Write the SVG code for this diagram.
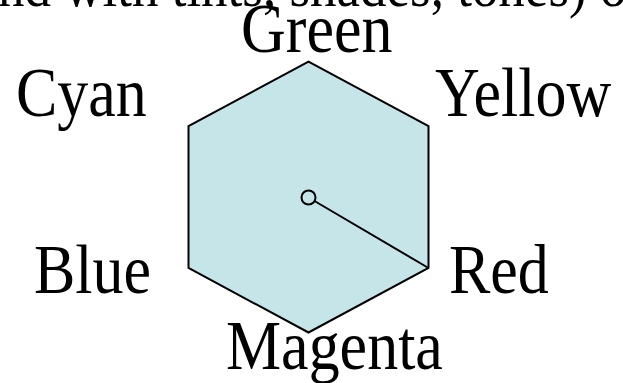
<svg xmlns="http://www.w3.org/2000/svg" width="623" height="383" viewBox="0 0 623 383">
<style>
.lbl{font-family:"Liberation Serif","Times New Roman",serif;font-size:62px;fill:#000}
.hex{fill:#C6E5E9;stroke:#000;stroke-width:2;stroke-linejoin:miter}
.edge{stroke:#000;stroke-width:2;fill:none}
</style>
<rect width="623" height="383" fill="#fff"/>
<g id="title"><text class="lbl" transform="translate(-2,6) scale(1,1.12)" style="font-size:53px">nd with tints, shades, tones) o</text></g>
<g id="hexagon"><polygon class="hex" points="308.5,61.7 428.5,126 428.5,268 308.5,332.5 188.5,268 188.5,126"/></g>
<g id="center"><circle cx="308.5" cy="197.5" r="7" fill="#C6E5E9" stroke="#000" stroke-width="2"/></g>
<g id="connectors"><line class="edge" x1="314.5" y1="201" x2="428.5" y2="268"/></g>
<g id="green"><text class="lbl" transform="translate(241,52) scale(1,1.12)">Green</text></g>
<g id="cyan"><text class="lbl" transform="translate(16,116) scale(1,1.12)">Cyan</text></g>
<g id="yellow"><text class="lbl" transform="translate(435,116) scale(1,1.12)">Yellow</text></g>
<g id="blue"><text class="lbl" transform="translate(34,293) scale(1,1.12)">Blue</text></g>
<g id="red"><text class="lbl" transform="translate(449,293) scale(1,1.12)">Red</text></g>
<g id="magenta"><text class="lbl" transform="translate(226,369) scale(1,1.12)">Magenta</text></g>
</svg>
